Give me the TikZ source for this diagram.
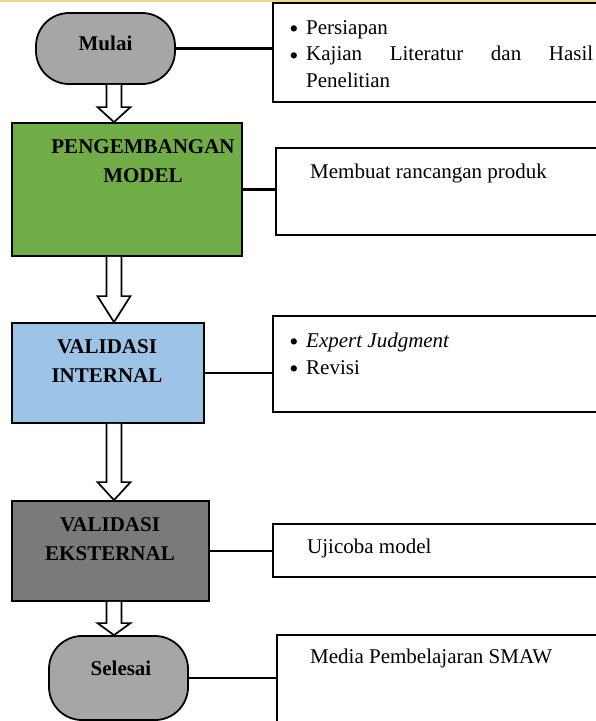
\documentclass[tikz,border=0pt]{standalone}
\usepackage{fontspec}
\setmainfont{Liberation Serif}
\usetikzlibrary{calc}
\definecolor{abu}{HTML}{A6A6A6}
\definecolor{hijau}{HTML}{70AD47}
\definecolor{biru}{HTML}{9DC3E6}
\definecolor{abutua}{HTML}{7A7A7A}
\definecolor{kuning}{HTML}{EED690}
\tikzset{
  kotak/.style={draw, line width=1.8pt, inner sep=0},
  kapsul/.style={kotak, rounded corners=33pt, fill=abu},
  ket/.style={kotak, fill=white},
  garis/.style={line width=2.4pt},
  panah/.style={draw, fill=white, line width=1.7pt, line join=miter},
  judul/.style={font=\fontsize{21}{29}\selectfont\bfseries, align=center, inner sep=0, anchor=base},
  isi/.style={font=\fontsize{21}{26.5}\selectfont, inner sep=0, anchor=base west},
  titik/.style={font=\fontsize{26}{26}\selectfont, inner sep=0, anchor=base}
}
\newcommand{\panahblok}[3]{%
  \draw[panah] let \p1=(#1.south -| sumbu), \p2=(#2.north -| sumbu) in
    (\x1-7.5pt,\y1) -- (\x1-7.5pt,\y2+#3pt) -- (\x1-16.5pt,\y2+#3pt) -- (\x1,\y2)
    -- (\x1+16.5pt,\y2+#3pt) -- (\x1+7.5pt,\y2+#3pt) -- (\x1+7.5pt,\y1);}
\begin{document}
\begin{tikzpicture}[x=1pt,y=1pt]
\useasboundingbox (0,0) rectangle (596,-721);
\clip (0,0) rectangle (596,-721);
\draw[kuning,line width=1.5pt] (0,-1) -- (596,-1);
\coordinate (sumbu) at (114,0);

\node[kapsul, minimum width=139, minimum height=71] (mulai) at (105.5,-48.5) {};
\node[kotak, fill=hijau, minimum width=230, minimum height=133] (kembang) at (127,-189.5) {};
\node[kotak, fill=biru, minimum width=192, minimum height=100] (internal) at (108,-373) {};
\node[kotak, fill=abutua, minimum width=197, minimum height=100] (eksternal) at (110.5,-551) {};
\node[kapsul, minimum width=139, minimum height=84] (selesai) at (118.5,-678) {};

\node[ket, minimum width=337, minimum height=99] (ket1) at (441.5,-52.5) {};
\node[ket, minimum width=334, minimum height=87] (ket2) at (443,-191.5) {};
\node[ket, minimum width=337, minimum height=96] (ket3) at (441.5,-364) {};
\node[ket, minimum width=337, minimum height=53] (ket4) at (441.5,-550.5) {};
\node[ket, minimum width=333, minimum height=87] (ket5) at (443.5,-678.5) {};

\node[judul] (tmulai) at (105.5,-50) {Mulai};
\node[judul] (tkembang) at (143,-182) {PENGEMBANGAN\\MODEL};
\node[judul] (tinternal) at (107,-382) {VALIDASI\\INTERNAL};
\node[judul] (teksternal) at (110,-560) {VALIDASI\\EKSTERNAL};
\node[judul] (tselesai) at (121,-675) {Selesai};

\node[titik] (b1) at (294,-37) {\textbullet};
\node[titik] (b2) at (294,-64) {\textbullet};
\node[isi, text width=287, align=justify] (tket1) at (306,-34) {Persiapan\\Kajian Literatur dan Hasil\linebreak Penelitian};
\node[isi] (tket2) at (310,-178) {Membuat rancangan produk};
\node[titik] (b3) at (294,-350) {\textbullet};
\node[titik] (b4) at (294,-377) {\textbullet};
\node[isi, align=left] (tket3) at (306,-374) {\textit{Expert Judgment}\\Revisi};
\node[isi] (tket4) at (307,-553) {Ujicoba model};
\node[isi] (tket5) at (310,-663) {Media Pembelajaran SMAW};

\draw[garis] (mulai.east) -- (mulai.east -| ket1.west);
\draw[garis] (kembang.east) -- (kembang.east -| ket2.west);
\draw[garis] (internal.east) -- (internal.east -| ket3.west);
\draw[garis] (eksternal.east) -- (eksternal.east -| ket4.west);
\draw[garis] (selesai.east) -- (selesai.east -| ket5.west);

\panahblok{mulai}{kembang}{15}
\panahblok{kembang}{internal}{26}
\panahblok{internal}{eksternal}{18}
\panahblok{eksternal}{selesai}{12}
\end{tikzpicture}
\end{document}
